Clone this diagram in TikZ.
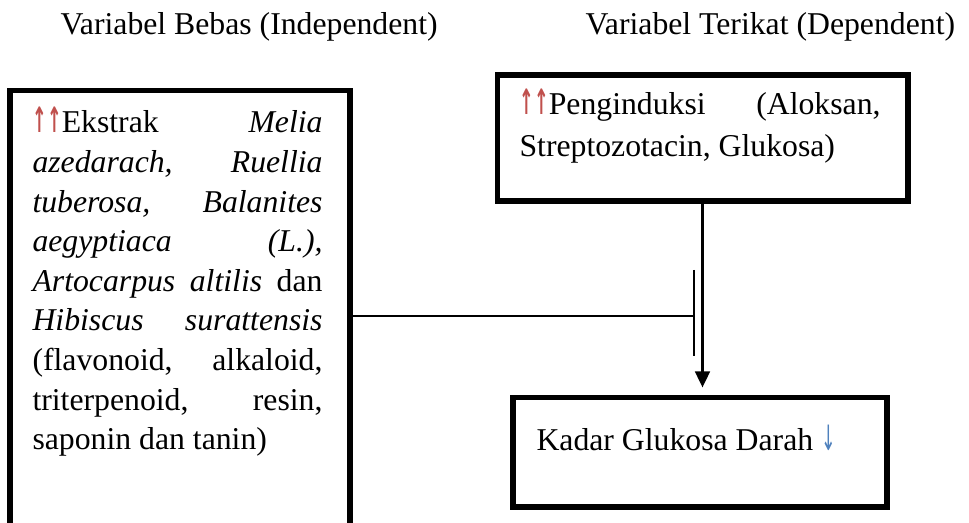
\documentclass[tikz,border=0pt]{standalone}
\usepackage{fontspec}
\setmainfont{Liberation Serif}
\newfontfamily\panah{DejaVu Sans}
\newcommand\naikdua{{\color{naik}\panah\bfseries\scalebox{0.55}[1.1]{↑}\scalebox{0.55}[1.1]{↑}}}
\newcommand\turunsatu{{\color{turun}\panah\scalebox{0.55}[1.1]{↓}}}
\usetikzlibrary{positioning,arrows.meta}
\definecolor{naik}{HTML}{C0504D}
\definecolor{turun}{HTML}{4F81BD}

\begin{document}
\begin{tikzpicture}[x = 0.375pt, y = -0.375pt,
    every node/.style = { font = \fontsize{11.9}{14.85}\selectfont },
    kotak/.style = { draw, line width = 1.9pt, inner sep = 0pt },
    teks/.style = { anchor = base west, inner sep = 0pt },
    isi/.style = { teks, align = justify, text width = #1 }]
  \useasboundingbox (0,0) rectangle (969,523);

  \node [teks] (judulbebas) at (60,35) { Variabel Bebas (Independent) };
  \node [teks] (judulterikat) at (585,35) { Variabel Terikat (Dependent) };

  \node [kotak, minimum width = 127.5pt, minimum height = 175.9pt] (bebas) at (180,325.5) {};
  \node [kotak, minimum width = 154.1pt, minimum height = 47.25pt] (induksi) at (702.5,138) {};
  \node [kotak, minimum width = 140.25pt, minimum height = 40.9pt] (glukosa) at (700,452.5) {};

  \node [isi = 108.75pt] (teksbebas) at (32,133) { \hyphenpenalty=10000
    \naikdua Ekstrak \textit{Melia}\linebreak
    \textit{azedarach, Ruellia}\linebreak
    \textit{tuberosa, Balanites}\linebreak
    \textit{aegyptiaca (L.),}\linebreak
    \textit{Artocarpus altilis} dan\linebreak
    \textit{Hibiscus surattensis}\linebreak
    (flavonoid, alkaloid,\linebreak
    triterpenoid, resin,\linebreak
    saponin dan tanin) };
  \node [isi = 135.4pt, font = \fontsize{11.9}{15.75}\selectfont] (teksinduksi) at (519,115) { \hyphenpenalty=10000
    \naikdua Penginduksi (Aloksan,\linebreak
    Streptozotacin, Glukosa) };
  \node [teks] (teksglukosa) at (536,451) { Kadar Glukosa Darah \turunsatu };

  \coordinate (hambat) at (694,316);
  \draw [line width = 1.1pt] (bebas.east |- hambat) -- (hambat);
  \draw [line width = 0.9pt] (hambat) ++(0,-46) -- ++(0,86);
  \draw [line width = 1pt, -{Triangle[width = 5.5pt, length = 6pt]}, shorten >= 3pt]
    (induksi.south) -- (induksi.south |- glukosa.north);
\end{tikzpicture}
\end{document}
